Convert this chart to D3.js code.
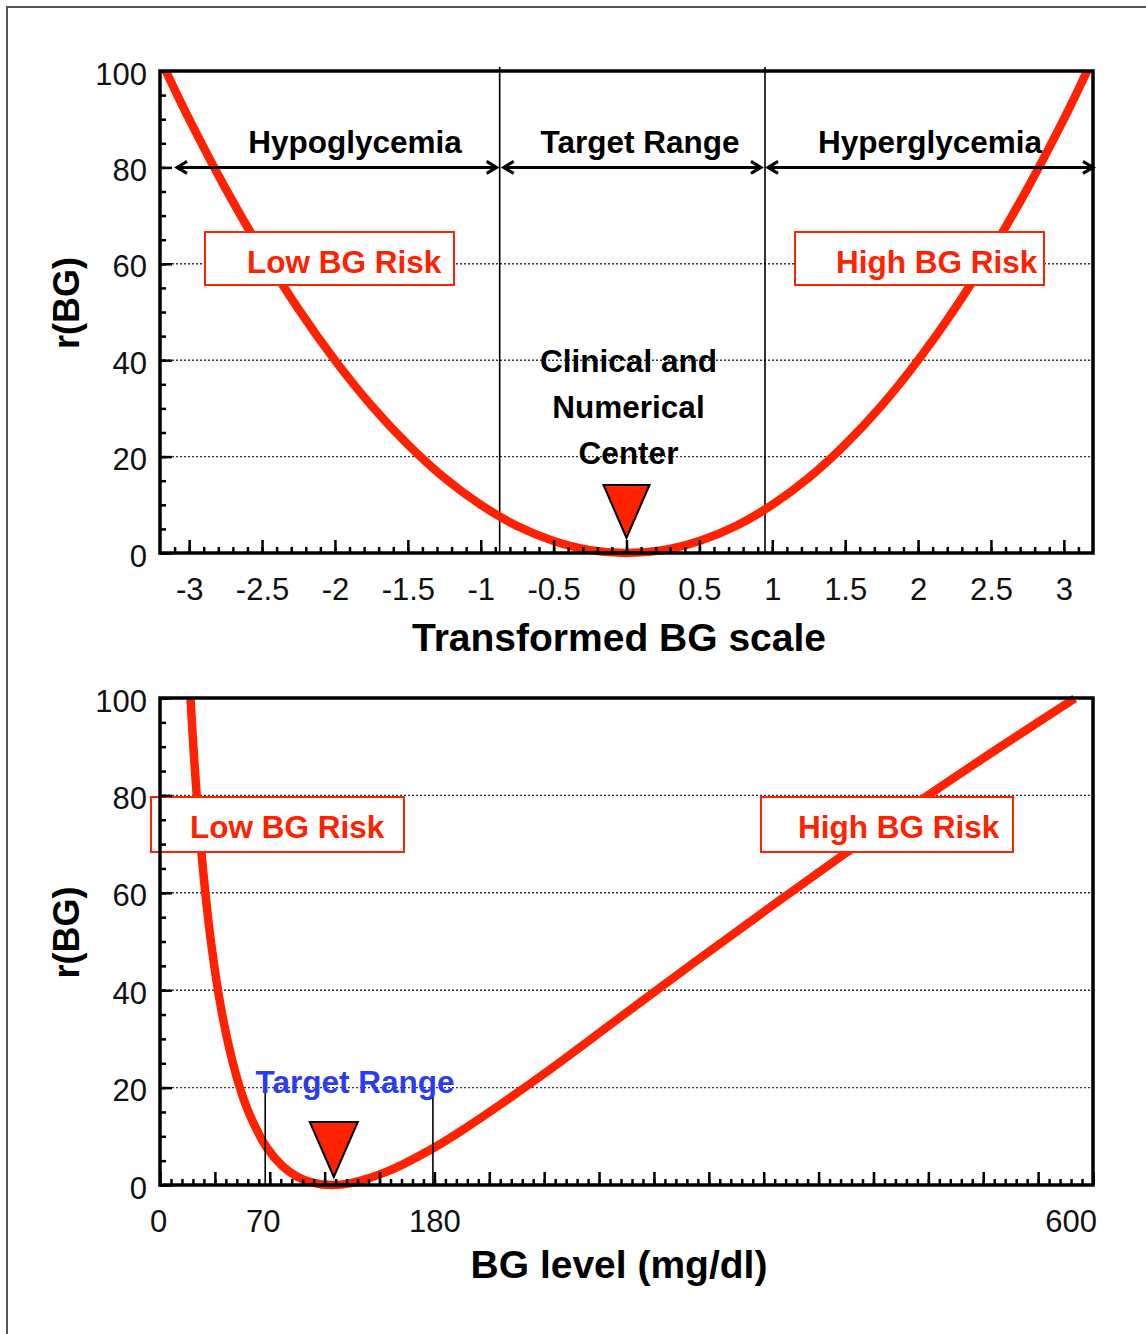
<!DOCTYPE html>
<html>
<head>
<meta charset="utf-8">
<script src="https://cdn.jsdelivr.net/npm/d3@7"></script>
<style>
  html, body { margin: 0; padding: 0; background: #fff; }
  svg { display: block; font-family: "Liberation Sans", Arial, Helvetica, sans-serif; }
</style>
</head>
<body>
<svg id="chart" width="1146" height="1334"></svg>
<script>
// ---------------- DATA ----------------
// Top panel: risk vs transformed BG scale
const topScaleValues = [-3.16,-3,-2.75,-2.5,-2.25,-2,-1.75,-1.5,-1.25,-1,-0.75,-0.5,-0.25,0,0.25,0.5,0.75,1,1.25,1.5,1.75,2,2.25,2.5,2.75,3,3.16];
const topRiskValues  = [100,90,75.6,62.5,50.6,40,30.6,22.5,15.6,10,5.6,2.5,0.6,0,0.6,2.5,5.6,10,15.6,22.5,30.6,40,50.6,62.5,75.6,90,100];
const topTickValues  = [-3,-2.5,-2,-1.5,-1,-0.5,0,0.5,1,1.5,2,2.5,3];
const topTickLabels  = ["-3","-2.5","-2","-1.5","-1","-0.5","0","0.5","1","1.5","2","2.5","3"];
const topRegionBounds = [-0.87, 0.95];           // vertical separators
const topRegionLabels = ["Hypoglycemia","Target Range","Hyperglycemia"];
const topCenterLabel  = ["Clinical and","Numerical","Center"];
const topCenterValue  = 0;

// Bottom panel: risk vs BG level (mg/dl)
const bgValues   = [20,22,25,30,35,40,45,50,55,60,70,80,90,100,113,125,150,180,200,250,300,350,400,450,500,550,600];
const bgRisk     = [100,89.5,76.3,59.2,46.3,36.4,28.7,22.5,17.5,13.6,7.7,4.0,1.7,0.5,0,0.4,2.9,7.7,11.6,22.4,34.0,45.6,57.0,68.2,79.2,89.7,99.9];
const bgTickValues = [0,70,180,600];
const bgTickLabels = ["0","70","180","600"];
const bgTargetBounds = [70,180];
const bgCenterValue = 114;

// Shared
const riskTickValues = [0,20,40,60,80,100];
const riskTickLabels = ["0","20","40","60","80","100"];
const riskLabels = ["Low BG Risk","High BG Risk"];

// ---------------- STYLE ----------------
const RED = "#ff2200";
const BLUE = "#2a3cf0";
const FONT = "'Liberation Sans', Arial, Helvetica, sans-serif";
const LBL = 31.5;   // bold annotation size
const TCK = 31;     // tick label size

const svg = d3.select("#chart");

svg.append("rect").attr("x",7).attr("y",7).attr("width",1170).attr("height",1360)
  .attr("fill","none").attr("stroke","#555").attr("stroke-width",2);

function buildPanel(opt) {
  const g = svg.append("g");
  const x = d3.scaleLinear().domain(opt.xDomain).range([160, 1093]);
  const y = d3.scaleLinear().domain([0,100]).range([opt.bottom, opt.top]);
  g.selectAll("line.grid").data(opt.gridValues).enter().append("line")
    .attr("x1", x.range()[0]).attr("x2", x.range()[1])
    .attr("y1", d => y(d)).attr("y2", d => y(d))
    .attr("stroke","#333").attr("stroke-width",1.4).attr("stroke-dasharray","2,2");
  return {g, x, y};
}

function drawAxes(p, opt) {
  const {g, x, y} = p;
  const bottom = y(0);
  g.append("g").attr("transform",`translate(0,${bottom})`)
    .call(d3.axisBottom(x).tickValues(opt.xMinor).tickSizeInner(-6).tickSizeOuter(0).tickFormat(""))
    .call(s => s.select(".domain").remove())
    .selectAll("line").attr("stroke","#000").attr("stroke-width",2.5);
  g.append("g").attr("transform",`translate(0,${bottom})`)
    .call(d3.axisBottom(x).tickValues(opt.xMajor).tickSizeInner(-13).tickSizeOuter(0).tickPadding(25)
      .tickFormat((d,i) => opt.xLabels ? opt.xLabels[i] : ""))
    .call(s => s.select(".domain").remove())
    .call(s => s.selectAll("line").attr("stroke","#000").attr("stroke-width",2.5))
    .call(s => s.selectAll("text").attr("font-size",TCK).attr("font-family",FONT).attr("fill","#111"));
  if (opt.xLabelTicks) {
    g.append("g").attr("transform",`translate(0,${bottom})`)
      .call(d3.axisBottom(x).tickValues(opt.xLabelTicks).tickSize(0).tickPadding(25)
        .tickFormat((d,i) => opt.xLabelText[i]))
      .call(s => s.select(".domain").remove())
      .call(s => s.selectAll("text").attr("font-size",TCK).attr("font-family",FONT).attr("fill","#111")
        .attr("dx", (d,i) => opt.xLabelShift ? opt.xLabelShift[i] : 0));
  }
  g.append("g").attr("transform",`translate(${x.range()[0]},0)`)
    .call(d3.axisLeft(y).tickValues(d3.range(0,101,5)).tickSizeInner(-6).tickSizeOuter(0).tickFormat(""))
    .call(s => s.select(".domain").remove())
    .selectAll("line").attr("stroke","#000").attr("stroke-width",2.5);
  g.append("g").attr("transform",`translate(${x.range()[0]},0)`)
    .call(d3.axisLeft(y).tickValues(riskTickValues).tickSizeInner(-12).tickSizeOuter(0).tickPadding(13)
      .tickFormat((d,i) => riskTickLabels[i]))
    .call(s => s.select(".domain").remove())
    .call(s => s.selectAll("line").attr("stroke","#000").attr("stroke-width",2.5))
    .call(s => s.selectAll("text").attr("font-size",TCK).attr("font-family",FONT).attr("fill","#111").attr("dy","0.42em"));
  g.append("rect").attr("x",x.range()[0]).attr("y",y(100))
    .attr("width",x.range()[1]-x.range()[0]).attr("height",y(0)-y(100))
    .attr("fill","none").attr("stroke","#000").attr("stroke-width",3.5);
  g.append("text").attr("x",619).attr("y",opt.xTitleY).attr("text-anchor","middle")
    .attr("font-size",39).attr("font-weight","bold").attr("font-family",FONT).attr("fill","#000")
    .text(opt.xTitle);
  g.append("text").attr("transform",`translate(79,${(y(0)+y(100))/2-9}) rotate(-90)`)
    .attr("text-anchor","middle").attr("font-size",36).attr("font-weight","bold")
    .attr("font-family",FONT).attr("fill","#000").text("r(BG)");
}

function riskBox(g, x0, x1, yTop, yBot, textX, textY, label) {
  g.append("rect").attr("x",x0).attr("y",yTop).attr("width",x1-x0).attr("height",yBot-yTop)
    .attr("fill","#fff").attr("stroke",RED).attr("stroke-width",2);
  g.append("text").attr("x",textX).attr("y",textY).attr("font-size",LBL).attr("font-weight","bold")
    .attr("font-family",FONT).attr("fill",RED).text(label);
}

function triangle(g, cx, tipY, halfW, h) {
  g.append("path")
    .attr("d", `M${cx-halfW},${tipY-h} L${cx+halfW},${tipY-h} L${cx},${tipY} Z`)
    .attr("fill",RED).attr("stroke","#000").attr("stroke-width",2);
}

function arrow(g, x1, x2, yy) {
  g.append("line").attr("x1",x1).attr("x2",x2).attr("y1",yy).attr("y2",yy)
    .attr("stroke","#000").attr("stroke-width",3);
  g.append("path").attr("d",`M${x1+10},${yy-6} L${x1},${yy} L${x1+10},${yy+6}`)
    .attr("fill","none").attr("stroke","#000").attr("stroke-width",3);
  g.append("path").attr("d",`M${x2-10},${yy-6} L${x2},${yy} L${x2-10},${yy+6}`)
    .attr("fill","none").attr("stroke","#000").attr("stroke-width",3);
}

// ================= TOP PANEL =================
const topPanel = buildPanel({xDomain:[-3.2,3.2], top:71, bottom:553, gridValues:[20,40,60]});
{
  const {g, x, y} = topPanel;
  topRegionBounds.forEach(v => {
    g.append("line").attr("x1",x(v)).attr("x2",x(v)).attr("y1",y(100)-4).attr("y2",y(0))
      .attr("stroke","#000").attr("stroke-width",1.6);
  });
  const pts = topScaleValues.map((v,i) => [v, topRiskValues[i]]);
  g.append("path").datum(pts)
    .attr("d", d3.line().x(d => x(d[0])).y(d => y(d[1])).curve(d3.curveCatmullRom.alpha(0.5)))
    .attr("fill","none").attr("stroke",RED).attr("stroke-width",8.5);
  riskBox(g, 205, 454, 232, 285, 247, 273, riskLabels[0]);
  riskBox(g, 795, 1044, 232, 285, 836, 273, riskLabels[1]);
  const ay = y(80);
  const xb = topRegionBounds.map(v => x(v));
  arrow(g, x(-3.2)+17, xb[0]-3, ay);
  arrow(g, xb[0]+4, xb[1]-4, ay);
  arrow(g, xb[1]+3, x(3.2), ay);
  const labelX = [355, 640, 930];
  topRegionLabels.forEach((t,i) => {
    g.append("text").attr("x",labelX[i]).attr("y",153).attr("text-anchor","middle")
      .attr("font-size",LBL).attr("font-weight","bold").attr("font-family",FONT).attr("fill","#000").text(t);
  });
  topCenterLabel.forEach((t,i) => {
    g.append("text").attr("x",x(topCenterValue)+2).attr("y",372+i*46).attr("text-anchor","middle")
      .attr("font-size",LBL).attr("font-weight","bold").attr("font-family",FONT).attr("fill","#000").text(t);
  });
  triangle(g, x(topCenterValue), 538, 23, 53);
}
drawAxes(topPanel, {
  xMajor: topTickValues, xLabels: topTickLabels,
  xMinor: d3.range(-31,32).map(v => v/10),
  xTitle: "Transformed BG scale", xTitleY: 651
});

// ================= BOTTOM PANEL =================
const botPanel = buildPanel({xDomain:[0,612], top:698, bottom:1185, gridValues:[20,40,60,80]});
{
  const {g, x, y} = botPanel;
  const pts = bgValues.map((v,i) => [v, bgRisk[i]]);
  g.append("path").datum(pts)
    .attr("d", d3.line().x(d => x(d[0])).y(d => y(d[1])).curve(d3.curveCatmullRom.alpha(0.5)))
    .attr("fill","none").attr("stroke",RED).attr("stroke-width",8.5);
  bgTargetBounds.forEach(v => {
    g.append("line").attr("x1",x(v)-1.5).attr("x2",x(v)-1.5).attr("y1",y(21)).attr("y2",y(0))
      .attr("stroke","#000").attr("stroke-width",1.6);
  });
  g.append("text").attr("x",355).attr("y",1093).attr("text-anchor","middle")
    .attr("font-size",LBL).attr("font-weight","bold").attr("font-family",FONT).attr("fill",BLUE)
    .text("Target Range");
  riskBox(g, 151, 404, 797, 852, 190, 838, riskLabels[0]);
  riskBox(g, 761, 1013, 797, 852, 798, 838, riskLabels[1]);
  triangle(g, x(bgCenterValue), 1177, 24, 55);
}
drawAxes(botPanel, {
  xMajor: d3.range(0,613,36), xLabels: null,
  xMinor: d3.range(0,613,7.2),
  xLabelTicks: bgTickValues, xLabelText: bgTickLabels, xLabelShift: [-2,-4,0,-4],
  xTitle: "BG level (mg/dl)", xTitleY: 1278
});
</script>
</body>
</html>
